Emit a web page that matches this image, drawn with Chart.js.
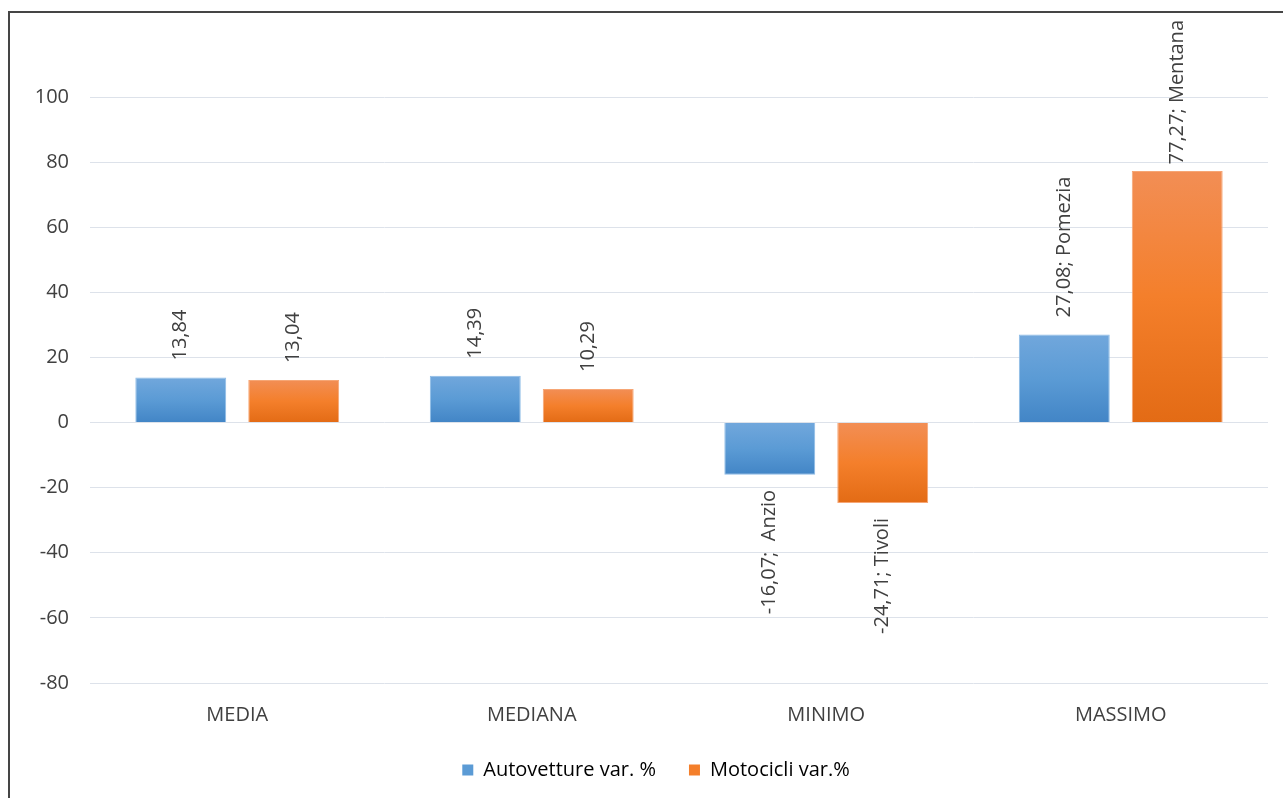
<!DOCTYPE html>
<html>
<head>
    <title>Autovetture e Motocicli var. %</title>
    <script src="https://cdn.jsdelivr.net/npm/chart.js"></script>
    <style>
        body { margin: 0; background: #fff; }
        #wrap { position: relative; width: 1283px; height: 798px; }
        #frame {
            position: absolute; left: 8px; top: 11px; right: 0; bottom: 0;
            border-left: 2px solid #454545; border-top: 2px solid #454545;
            pointer-events: none;
        }
    </style>
</head>
<body>
    <div id="wrap">
        <canvas id="barChart" width="1283" height="798"></canvas>
        <div id="frame"></div>
    </div>

    <script>
        // chart data
        const categories = ['MEDIA', 'MEDIANA', 'MINIMO', 'MASSIMO'];
        const autoValues = [13.84, 14.39, -16.07, 27.08];
        const motoValues = [13.04, 10.29, -24.71, 77.27];
        const autoPlaces = ['', '', ' Anzio', 'Pomezia'];
        const motoPlaces = ['', '', 'Tivoli', 'Mentana'];
        const seriesNames = ['Autovetture var. %', 'Motocicli var.%'];
        const yTicks = [-80, -60, -40, -20, 0, 20, 40, 60, 80, 100];

        const FONT = '"Open Sans", "Liberation Sans", Arial, sans-serif';
        const TEXT = '#404040';

        // per bar vertical gradient, lighter on top
        function barGradient(stops) {
            return (ctx) => {
                const chart = ctx.chart;
                if (!chart.chartArea || ctx.type !== 'data') return stops[1];
                const y = chart.scales.y;
                const v = ctx.raw;
                const top = y.getPixelForValue(Math.max(v, 0));
                const bottom = y.getPixelForValue(Math.min(v, 0));
                if (bottom - top < 1) return stops[1];
                const g = chart.ctx.createLinearGradient(0, top, 0, bottom);
                g.addColorStop(0, stops[0]);
                g.addColorStop(0.5, stops[1]);
                g.addColorStop(1, stops[2]);
                return g;
            };
        }

        function fmt(v, place) {
            let s = v.toFixed(2).replace('.', ',');
            if (place) s += '; ' + place;
            return s;
        }

        const valueLabels = {
            id: 'valueLabels',
            afterLayout(chart) {
                // legend in the original sits a little right of the canvas centre
                if (chart.legend) chart.legend.left = 44;
            },
            afterDatasetsDraw(chart) {
                const c = chart.ctx;
                const texts = [
                    autoValues.map((v, i) => fmt(v, autoPlaces[i])),
                    motoValues.map((v, i) => fmt(v, motoPlaces[i]))
                ];
                c.save();
                c.font = '20px ' + FONT;
                c.fillStyle = TEXT;
                c.textBaseline = 'middle';
                chart.data.datasets.forEach((ds, di) => {
                    chart.getDatasetMeta(di).data.forEach((el, i) => {
                        const v = ds.data[i];
                        const txt = texts[di][i];
                        c.save();
                        if (v >= 0) {
                            // keep long labels inside the frame
                            const w = c.measureText(txt).width;
                            let start = el.y - 17;
                            if (start - w < 20) start = Math.min(el.y - 6, 20 + w);
                            c.translate(el.x, start);
                            c.rotate(-Math.PI / 2);
                            c.textAlign = 'left';
                        } else {
                            c.translate(el.x, el.y + 15);
                            c.rotate(-Math.PI / 2);
                            c.textAlign = 'right';
                        }
                        c.fillText(txt, 0, 0);
                        c.restore();
                    });
                });
                c.restore();
            }
        };

        const ctx = document.getElementById('barChart').getContext('2d');
        new Chart(ctx, {
            type: 'bar',
            data: {
                labels: categories,
                datasets: [{
                    label: seriesNames[0],
                    data: autoValues,
                    backgroundColor: barGradient(['#71a7dc', '#5b9bd5', '#4285c6']),
                    borderColor: '#8cbbe6',
                    borderWidth: 1,
                    categoryPercentage: 0.767,
                    barPercentage: 0.805
                }, {
                    label: seriesNames[1],
                    data: motoValues,
                    backgroundColor: barGradient(['#f28e55', '#f47f2b', '#e36b15']),
                    borderColor: '#f6a675',
                    borderWidth: 1,
                    categoryPercentage: 0.767,
                    barPercentage: 0.805
                }]
            },
            options: {
                responsive: false,
                animation: false,
                layout: { padding: { top: 97, left: 10, right: 15, bottom: 8 } },
                plugins: {
                    tooltip: { enabled: false },
                    legend: {
                        position: 'bottom',
                        labels: {
                            boxWidth: 11,
                            boxHeight: 11,
                            padding: 33,
                            color: TEXT,
                            font: { family: FONT, size: 20 },
                            generateLabels(chart) {
                                return chart.data.datasets.map((ds, i) => ({
                                    text: ds.label,
                                    fillStyle: i === 0 ? '#5b9bd5' : '#f47f2b',
                                    strokeStyle: i === 0 ? '#5b9bd5' : '#f47f2b',
                                    lineWidth: 0,
                                    datasetIndex: i
                                }));
                            }
                        }
                    }
                },
                scales: {
                    x: {
                        afterFit(scale) { scale.height = 44; },
                        grid: { display: false },
                        border: { display: false },
                        ticks: { color: TEXT, padding: 12, font: { family: FONT, size: 20 } }
                    },
                    y: {
                        min: -80,
                        max: 100,
                        afterFit(scale) { scale.width = 80; },
                        afterBuildTicks(scale) { scale.ticks = yTicks.map(v => ({ value: v })); },
                        grid: { color: '#dde2ea', lineWidth: 1, drawTicks: false },
                        border: { display: false },
                        ticks: { color: TEXT, padding: 21, font: { family: FONT, size: 20 } }
                    }
                }
            },
            plugins: [valueLabels]
        });
    </script>
</body>
</html>
